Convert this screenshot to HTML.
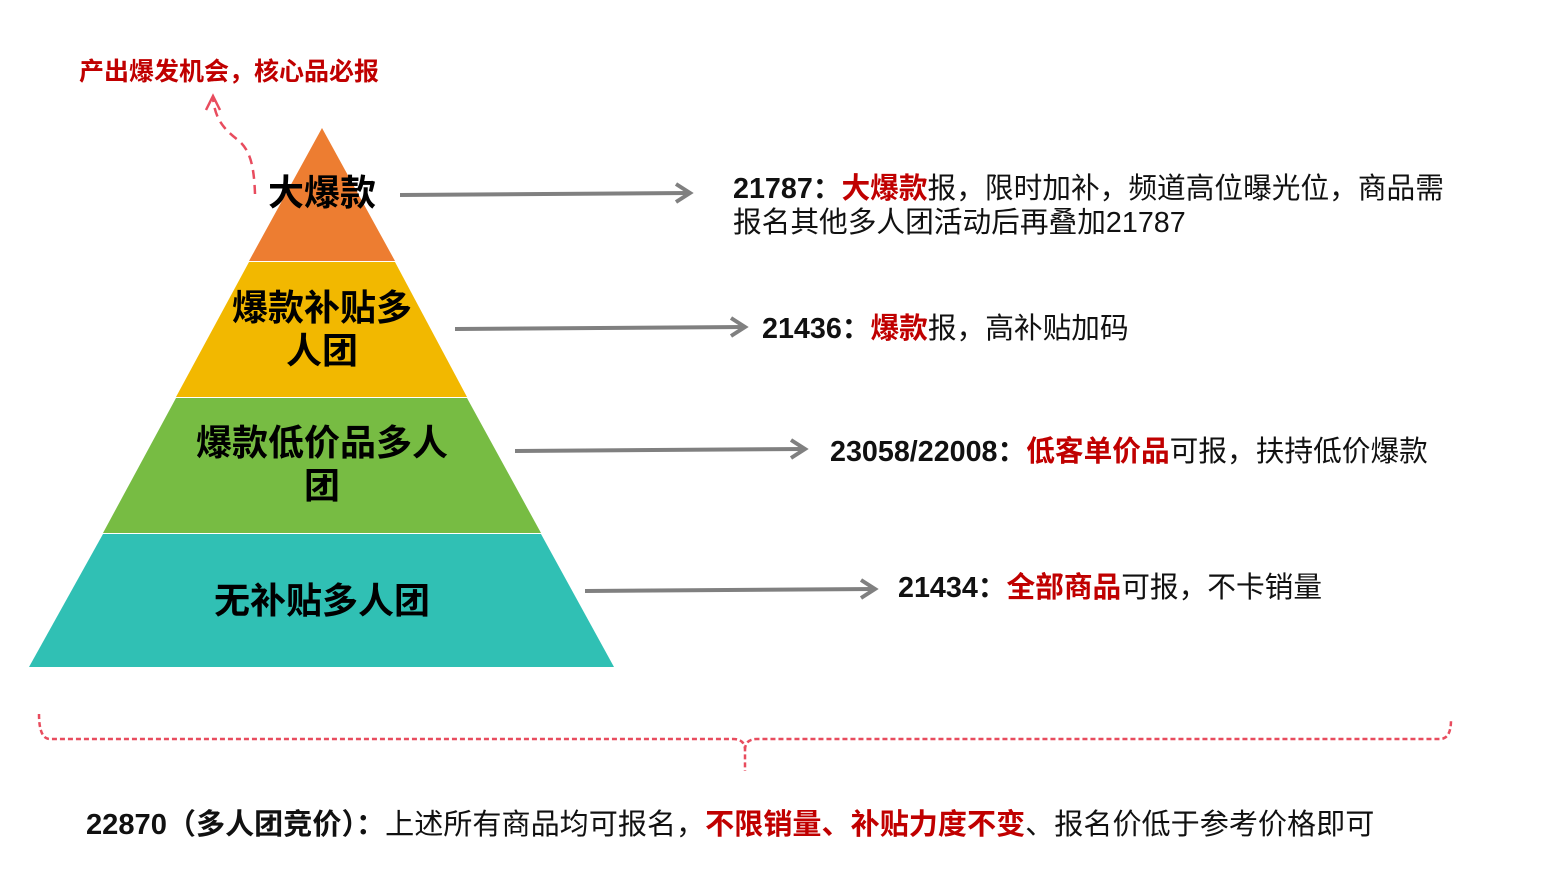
<!DOCTYPE html>
<html><head><meta charset="utf-8"><style>
body{margin:0;width:1552px;height:881px;background:#fff;position:relative;overflow:hidden;font-family:"Liberation Sans","Noto Sans CJK SC",sans-serif}
.t{position:absolute;white-space:nowrap;font-size:28.7px;color:#111}
.r{color:#c00000;font-weight:bold}
.b{font-weight:bold}
.L{position:absolute;font-weight:bold;font-size:36px;color:#000;text-align:center;line-height:43px}
</style></head><body>
<svg width="1552" height="881" style="position:absolute;left:0;top:0">
<polygon points="322,128 395,261 249,261" fill="#ed7d31"/>
<polygon points="249,262 395,262 467,397 176,397" fill="#f2b800"/>
<polygon points="176,398 467,398 541,533 103,533" fill="#77bc43"/>
<polygon points="103,534 541,534 614,667 29,667" fill="#30c0b4"/>
<g stroke="#808080" stroke-width="4" fill="none">
<line x1="400" y1="195" x2="690" y2="193"/><polyline points="676,184 690,193 676,202"/>
<line x1="455" y1="329" x2="745" y2="327"/><polyline points="731,318 745,327 731,336"/>
<line x1="515" y1="451" x2="805" y2="449"/><polyline points="791,440 805,449 791,458"/>
<line x1="585" y1="591" x2="875" y2="589"/><polyline points="861,580 875,589 861,598"/>
</g>
<g stroke="#e84c5e" stroke-width="2.5" fill="none" stroke-dasharray="9,6">
<path d="M255,194 C254,165 250,150 238,140 C225,130 215,120 213,98"/>
<path d="M39,714 Q39,739 50,739 L733,739 Q745,739 745,750 L745,771 M745,750 Q745,739 757,739 L1440,739 Q1451,739 1451,720" stroke-dasharray="5,3"/>
</g>
<polyline points="206,110 213,96 220,110" stroke="#e84c5e" stroke-width="2.5" fill="none"/>
</svg>
<div class="t r" style="left:79px;top:52px;font-size:25px">产出爆发机会，核心品必报</div>
<div class="L" style="left:222px;top:171px;width:200px">大爆款</div>
<div class="L" style="left:172px;top:286px;width:300px">爆款补贴多<br>人团</div>
<div class="L" style="left:172px;top:421px;width:300px">爆款低价品多人<br>团</div>
<div class="t" style="left:733px;top:172px;line-height:34px"><span class="b">21787：</span><span class="r">大爆款</span>报，限时加补，频道高位曝光位，商品需<br>报名其他多人团活动后再叠加21787</div>
<div class="L" style="left:122px;top:579px;width:400px">无补贴多人团</div>
<div class="t" style="left:762px;top:306px"><span class="b">21436：</span><span class="r">爆款</span>报，高补贴加码</div>
<div class="t" style="left:830px;top:429px"><span class="b">23058/22008：</span><span class="r">低客单价品</span>可报，扶持低价爆款</div>
<div class="t" style="left:898px;top:565px"><span class="b">21434：</span><span class="r">全部商品</span>可报，不卡销量</div>
<div class="t" style="left:86px;top:801px;font-size:29.1px"><span class="b">22870（多人团竞价）：</span>上述所有商品均可报名，<span class="r">不限销量、补贴力度不变</span>、报名价低于参考价格即可</div>
</body></html>
